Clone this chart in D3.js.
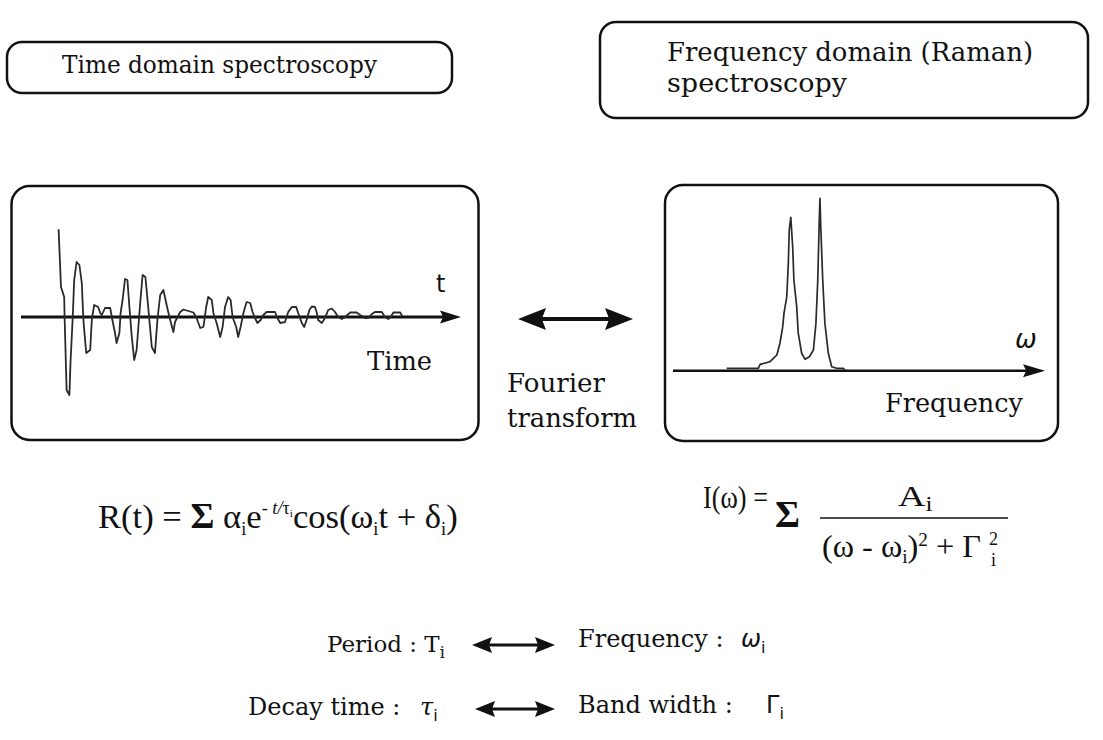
<!DOCTYPE html>
<html>
<head>
<meta charset="utf-8">
<script src="https://cdn.jsdelivr.net/npm/d3@7"></script>
<style>
  html, body { margin: 0; padding: 0; background: #fff; }
  svg { display: block; }
  text { white-space: pre; fill: #111; }
</style>
</head>
<body>
<div id="chart"></div>
<script>
// time domain trace: delay (arb. units) and amplitude
const timeT = [
    0.94, 1.00, 1.08, 1.09, 1.14, 1.21, 1.24, 1.29, 1.33, 1.39,
    1.46, 1.52, 1.56, 1.63, 1.73, 1.77, 1.83, 1.93, 1.98, 2.02,
    2.10, 2.23, 2.27, 2.35, 2.39, 2.46, 2.49, 2.54, 2.60, 2.66,
    2.71, 2.77, 2.83, 2.89, 2.98, 3.04, 3.11, 3.18, 3.27, 3.35,
    3.41, 3.48, 3.56, 3.63, 3.71, 3.81, 3.85, 3.98, 4.06, 4.31,
    4.39, 4.48, 4.56, 4.63, 4.68, 4.77, 4.81, 4.89, 4.98, 5.04,
    5.10, 5.18, 5.24, 5.29, 5.38, 5.43, 5.49, 5.56, 5.64, 5.73,
    5.79, 5.85, 5.91, 5.99, 6.06, 6.14, 6.35, 6.41, 6.48, 6.60,
    6.68, 6.77, 6.88, 6.93, 7.02, 7.08, 7.14, 7.21, 7.27, 7.35,
    7.39, 7.43, 7.52, 7.60, 7.68, 7.77, 7.85, 7.93, 8.02, 8.10,
    8.23, 8.39, 8.48, 8.60, 8.68, 8.77, 8.85, 9.02, 9.10, 9.18,
    9.24, 9.31, 9.48, 9.53
];
const timeAmp = [
    8.77, 3.0, 2.0, 0, -7.3, -7.8, -4.3, -0.3, 3.7, 5.5,
    5.2, 3.4, -0.3, -3.6, -3.3, -0.3, 1.2, 1.0, 0.4, 0.2,
    0.9, 0.9, 0, -1.6, -2.6, -1.6, 0.4, 1.7, 3.8, 3.7,
    1.0, -2.0, -4.3, -3.3, 1.4, 4.2, 4.0, 1.0, -3.0, -3.6,
    -0.3, 2.2, 2.7, 1.4, 0, -1.5, -0.5, 0.5, 0.75, 0.45,
    -0.1, -1.1, -1.0, 1.0, 2.0, 1.7, 0.4, -0.6, -2.0, -1.0,
    1.0, 2.0, 1.7, 0, -1.0, -2.0, -1.0, 0.4, 1.5, 1.4,
    0.5, -0.1, -0.6, -0.3, 0.2, 0.5, 0.5, -0.1, -0.6, -0.5,
    0.5, 1.0, 1.0, 0.4, -0.6, -1.0, -0.3, 0.7, 1.05, 1.0,
    0.5, -0.3, -0.6, -0.1, 0.7, 0.85, 0.5, 0, -0.2, 0,
    0.45, 0.45, 0.2, -0.1, -0.1, 0.3, 0.5, 0.5, 0, -0.2,
    0, 0.45, 0.45, 0.1
];

// Raman spectrum: frequency (arb. units) and normalised intensity
const ramanW = [
    1.73, 2.75, 2.81, 3.13, 3.35, 3.45, 3.54, 3.58, 3.67, 3.72,
    3.75, 3.80, 3.86, 3.90, 3.99, 4.04, 4.15, 4.26, 4.40, 4.53,
    4.61, 4.67, 4.71, 4.74, 4.77, 4.83, 4.90, 5.01, 5.12, 5.28,
    5.49, 5.55
];
const ramanI = [
    0.014, 0.014, 0.037, 0.052, 0.091, 0.159, 0.255, 0.332, 0.428, 0.622,
    0.815, 0.888, 0.718, 0.525, 0.371, 0.217, 0.101, 0.066, 0.081, 0.120,
    0.274, 0.525, 0.815, 0.998, 0.815, 0.525, 0.274, 0.101, 0.023, 0.014,
    0.014, 0.004
];

const width = 1103, height = 740;
const serif = "'DejaVu Serif', serif";
const times = "'Liberation Serif', 'Times New Roman', serif";
const sans = "'DejaVu Sans', sans-serif";

const svg = d3.select("#chart").append("svg")
    .attr("width", width)
    .attr("height", height);

svg.append("rect").attr("width", width).attr("height", height).attr("fill", "#fff");

// rounded frames
function frame(x, y, w, h, r) {
    svg.append("rect")
        .attr("x", x).attr("y", y)
        .attr("width", w).attr("height", h)
        .attr("rx", r).attr("ry", r)
        .attr("fill", "none")
        .attr("stroke", "#111")
        .attr("stroke-width", 2.5);
}

function label(txt, x, y, size, opts = {}) {
    const t = svg.append("text")
        .attr("x", x).attr("y", y)
        .attr("font-family", opts.family || serif)
        .attr("font-size", size)
        .text(txt);
    if (opts.style) t.attr("font-style", opts.style);
    if (opts.len) t.attr("textLength", opts.len).attr("lengthAdjust", "spacingAndGlyphs");
    return t;
}

// text built from tspans, each part may shift its baseline
function rich(x, y, parts, family, size) {
    const t = svg.append("text")
        .attr("x", x).attr("y", y)
        .attr("font-family", family)
        .attr("font-size", size);
    parts.forEach(p => {
        const s = t.append("tspan").text(p.t).attr("y", y + (p.dy || 0));
        if (p.size) s.attr("font-size", p.size);
        if (p.family) s.attr("font-family", p.family);
        if (p.style) s.attr("font-style", p.style);
        if (p.weight) s.attr("font-weight", p.weight);
        if (p.x !== undefined) s.attr("x", p.x);
    });
    return t;
}

// squeeze/stretch a text horizontally so it spans x0..x0+w
function fitWidth(t, x0, w) {
    t.attr("x", 0);
    const b = t.node().getBBox();
    const sx = w / b.width;
    t.attr("transform", `translate(${x0},0) scale(${sx},1) translate(${-b.x},0)`);
}

function head(g, tipX, y, dir, len, half) {
    g.append("path")
        .attr("d", `M${tipX},${y} L${tipX - dir * len},${y - half} L${tipX - dir * len * 0.85},${y} L${tipX - dir * len},${y + half} Z`)
        .attr("fill", "#111");
}

function doubleArrow(x1, x2, y, len, half, sw) {
    const g = svg.append("g");
    g.append("line")
        .attr("x1", x1 + len * 0.8).attr("x2", x2 - len * 0.8)
        .attr("y1", y).attr("y2", y)
        .attr("stroke", "#111").attr("stroke-width", sw);
    head(g, x1, y, -1, len, half);
    head(g, x2, y, 1, len, half);
}

// ---- header boxes
frame(7, 42, 445, 51, 15);
label("Time domain spectroscopy", 62, 73, 24, {len: 315});

frame(600, 22, 488, 96, 16);
label("Frequency domain (Raman)", 667, 61, 26, {len: 366});
label("spectroscopy", 667, 92, 26, {len: 180});

// ---- time domain panel
frame(11.5, 186, 467, 254, 18);

const tx = d3.scaleLinear().domain([0, 11]).range([21, 461]);
const ty = d3.scaleLinear().domain([-10, 10]).range([417, 217]);

const tAxis = svg.append("g");
tAxis.append("line")
    .attr("x1", tx(0)).attr("x2", tx(11) - 16)
    .attr("y1", ty(0)).attr("y2", ty(0))
    .attr("stroke", "#111").attr("stroke-width", 3);
head(tAxis, tx(11), ty(0), 1, 21, 6.5);

const traceLine = d3.line()
    .x(i => tx(timeT[i]))
    .y(i => ty(timeAmp[i]));

svg.append("path")
    .datum(d3.range(timeT.length))
    .attr("d", traceLine)
    .attr("fill", "none")
    .attr("stroke", "#2a2a2a")
    .attr("stroke-width", 1.8)
    .attr("stroke-linejoin", "round");

label("t", 436, 292, 24, {family: sans});
label("Time", 367, 370, 26, {len: 65});

// ---- frequency domain panel
frame(665, 185, 393, 256, 18);

const fx = d3.scaleLinear().domain([0, 12]).range([673, 1045]);
const fy = d3.scaleLinear().domain([0, 1]).range([370.7, 198]);

const fAxis = svg.append("g");
fAxis.append("line")
    .attr("x1", fx(0)).attr("x2", fx(12) - 16)
    .attr("y1", fy(0)).attr("y2", fy(0))
    .attr("stroke", "#111").attr("stroke-width", 2.6);
head(fAxis, fx(12), fy(0), 1, 22, 6.5);

const specLine = d3.line()
    .x(i => fx(ramanW[i]))
    .y(i => fy(ramanI[i]));

svg.append("path")
    .datum(d3.range(ramanW.length))
    .attr("d", specLine)
    .attr("fill", "none")
    .attr("stroke", "#2a2a2a")
    .attr("stroke-width", 1.7)
    .attr("stroke-linejoin", "round");

label("ω", 1015, 348, 26, {family: sans, style: "italic"});
label("Frequency", 885, 412, 26, {len: 138});

// ---- Fourier transform arrow
doubleArrow(518, 633, 319, 28, 11, 4);
label("Fourier", 507, 392, 26, {len: 98});
label("transform", 507, 427, 26, {len: 130});

// ---- formulas
const f1 = rich(98, 528, [
    {t: "R(t) = "},
    {t: "Σ", weight: "bold", size: 36},
    {t: " α"},
    {t: "i", size: 18, dy: 7},
    {t: "e"},
    {t: "- ", size: 18, dy: -14},
    {t: "t/", size: 18, dy: -14, style: "italic"},
    {t: "τ", size: 18, dy: -14},
    {t: "i", size: 11, dy: -11},
    {t: "cos(ω"},
    {t: "i", size: 18, dy: 7},
    {t: "t + δ"},
    {t: "i", size: 18, dy: 7},
    {t: ")"}
], times, 34);
fitWidth(f1, 98, 360);

const f2a = rich(703, 508, [{t: "I(ω) ="}], times, 32);
fitWidth(f2a, 703, 65);
const f2s = rich(775, 527, [{t: "Σ", weight: "bold"}], times, 37);
fitWidth(f2s, 775, 25);
const f2n = rich(898, 506, [{t: "A"}, {t: "i", size: 20, dy: 5}], times, 30);
fitWidth(f2n, 898, 35);
svg.append("line")
    .attr("x1", 820).attr("x2", 1008)
    .attr("y1", 518).attr("y2", 518)
    .attr("stroke", "#111").attr("stroke-width", 1.5);
const f2d = rich(822, 557, [
    {t: "(ω - ω"},
    {t: "i", size: 19, dy: 6},
    {t: ")"},
    {t: "2", size: 19, dy: -11},
    {t: " + Γ"}
], times, 32);
fitWidth(f2d, 822, 159);
label("2", 989, 545, 18, {family: times});
label("i", 991, 566, 18, {family: times});

// ---- correspondence rows
rich(327, 652, [
    {t: "Period : T"},
    {t: "i", size: 16, dy: 6}
], serif, 23);
doubleArrow(472, 555, 645, 20, 8, 3);
rich(578, 647, [
    {t: "Frequency : "},
    {t: "ω", family: sans, style: "italic", x: 741},
    {t: "i", size: 16, dy: 6, family: sans}
], serif, 24);

rich(248, 715, [
    {t: "Decay time : "},
    {t: "τ", style: "italic", x: 420},
    {t: "i", size: 16, dy: 6, family: sans}
], serif, 24);
doubleArrow(475, 555, 709, 20, 8, 3);
rich(578, 713, [
    {t: "Band width : "},
    {t: "Γ", family: sans, x: 766},
    {t: "i", size: 16, dy: 6, family: sans}
], serif, 24);
</script>
</body>
</html>
